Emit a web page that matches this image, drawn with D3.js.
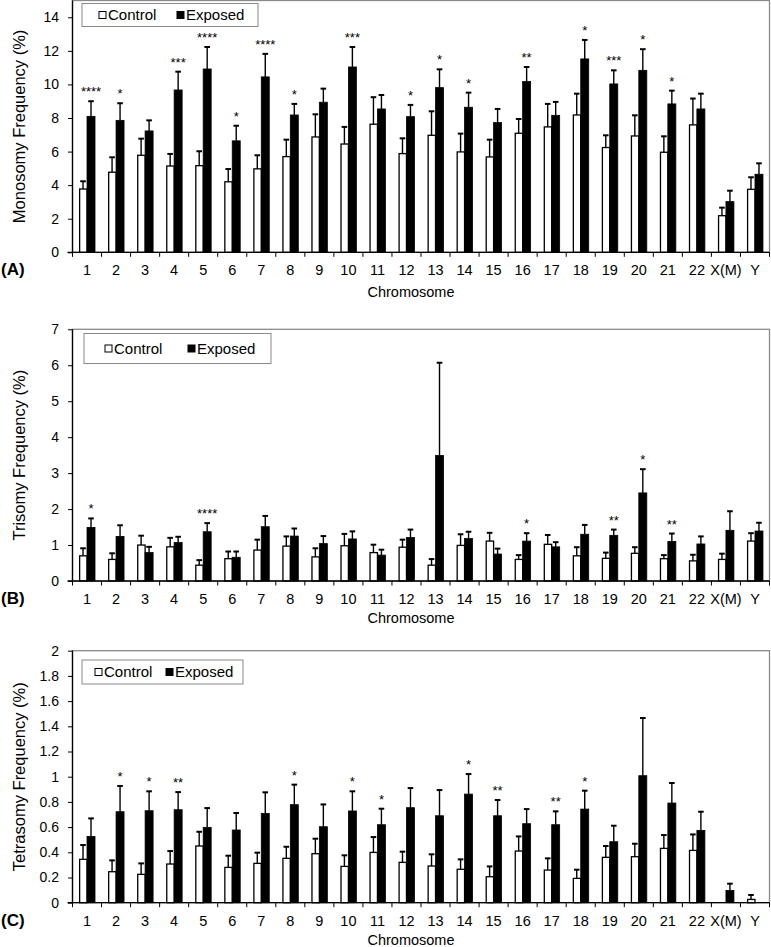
<!DOCTYPE html>
<html>
<head>
<meta charset="utf-8">
<script src="https://cdn.jsdelivr.net/npm/d3@7"></script>
<style>
  html, body { margin: 0; padding: 0; background: #fff; }
  svg { display: block; font-family: "Liberation Sans", Arial, sans-serif; }
</style>
</head>
<body>
<svg id="chart" width="771" height="947"></svg>
<script>
// ---------------- DATA ----------------
const categories = ["1","2","3","4","5","6","7","8","9","10","11","12","13","14","15","16","17","18","19","20","21","22","X(M)","Y"];
const seriesNames = ["Control", "Exposed"];

// (A) Monosomy
const monoControl    = [3.77,4.77,5.78,5.14,5.16,4.20,4.97,5.70,6.87,6.45,7.63,5.88,6.97,5.98,5.68,7.09,7.47,8.18,6.24,6.93,5.96,7.59,2.18,3.75];
const monoControlErr = [0.46,0.89,0.99,0.72,0.86,0.76,0.81,1.01,1.35,1.02,1.61,0.91,1.43,1.09,1.03,0.85,1.37,1.27,0.73,1.23,0.95,1.57,0.48,0.72];
const monoExposed    = [8.10,7.86,7.23,9.67,10.92,6.64,10.45,8.18,8.94,11.04,8.54,8.08,9.81,8.64,7.73,10.17,8.16,11.52,10.03,10.84,8.84,8.54,3.02,4.65];
const monoExposedErr = [0.90,1.02,0.63,1.09,1.31,0.90,1.37,0.66,0.81,1.19,0.83,0.70,1.09,0.87,0.81,0.87,0.80,1.13,0.81,1.26,0.79,0.91,0.65,0.65];
const monoStars      = ["****","*","","***","****","*","****","*","","***","","*","*","*","","**","","*","***","*","*","","",""];
const monoTicks      = [0,2,4,6,8,10,12,14];

// (B) Trisomy
const triControl    = [0.70,0.60,1.00,0.95,0.44,0.62,0.86,0.97,0.67,0.98,0.79,0.94,0.44,0.99,1.11,0.60,1.02,0.70,0.63,0.77,0.62,0.56,0.60,1.11];
const triControlErr = [0.21,0.17,0.26,0.25,0.14,0.20,0.29,0.27,0.24,0.33,0.22,0.21,0.17,0.31,0.23,0.12,0.26,0.24,0.16,0.17,0.10,0.17,0.16,0.22];
const triExposed    = [1.49,1.24,0.79,1.07,1.37,0.66,1.51,1.25,1.04,1.17,0.72,1.21,3.49,1.18,0.75,1.11,0.95,1.30,1.27,2.45,1.10,1.03,1.41,1.39];
const triExposedErr = [0.25,0.31,0.16,0.16,0.24,0.16,0.30,0.21,0.21,0.21,0.15,0.22,2.58,0.19,0.15,0.22,0.13,0.26,0.16,0.66,0.22,0.21,0.53,0.23];
const triStars      = ["*","","","","****","","","","","","","","","","","*","","","**","*","**","","",""];
const triTicks      = [0,1,2,3,4,5,6,7];

// (C) Tetrasomy
const tetraControl    = [0.344,0.246,0.225,0.307,0.450,0.280,0.312,0.352,0.389,0.288,0.399,0.320,0.291,0.265,0.206,0.410,0.259,0.193,0.360,0.365,0.431,0.415,0,0.026];
const tetraControlErr = [0.114,0.090,0.087,0.103,0.113,0.093,0.085,0.092,0.119,0.088,0.122,0.085,0.093,0.079,0.082,0.116,0.093,0.069,0.090,0.103,0.106,0.127,0,0.035];
const tetraExposed    = [0.526,0.722,0.730,0.738,0.598,0.577,0.709,0.778,0.603,0.728,0.619,0.754,0.690,0.862,0.690,0.627,0.619,0.743,0.484,1.008,0.791,0.574,0.098,0];
const tetraExposedErr = [0.143,0.204,0.154,0.140,0.153,0.135,0.167,0.159,0.177,0.156,0.127,0.156,0.204,0.159,0.125,0.116,0.106,0.146,0.127,0.458,0.159,0.148,0.053,0];
const tetraStars      = ["","*","*","**","","","","*","","*","*","","","*","**","","**","*","","","","","",""];
const tetraTicks      = [0,0.2,0.4,0.6,0.8,1,1.2,1.4,1.6,1.8,2];

// ---------------- LAYOUT ----------------
const svg = d3.select("#chart");
const plotLeft = 72.5, plotRight = 769.5;

const panels = [
  { tag: "(A)", title: "Monosomy Frequency (%)", top: 0.5, bottom: 252.3, max: 15, ticks: monoTicks,
    control: monoControl, controlErr: monoControlErr, exposed: monoExposed, exposedErr: monoExposedErr, stars: monoStars,
    xTitleDy: 45, legend: { x: 82, y: 3.5, w: 176, h: 23 } },
  { tag: "(B)", title: "Trisomy Frequency (%)", top: 329.3, bottom: 581, max: 7, ticks: triTicks,
    control: triControl, controlErr: triControlErr, exposed: triExposed, exposedErr: triExposedErr, stars: triStars,
    xTitleDy: 42, legend: { x: 84, y: 333.5, w: 187, h: 30 } },
  { tag: "(C)", title: "Tetrasomy Frequency (%)", top: 650.7, bottom: 902.7, max: 2, ticks: tetraTicks,
    control: tetraControl, controlErr: tetraControlErr, exposed: tetraExposed, exposedErr: tetraExposedErr, stars: tetraStars,
    xTitleDy: 42, legend: { x: 82, y: 660, w: 161, h: 24 } }
];

const x = d3.scaleBand().domain(categories).range([plotLeft, plotRight]).paddingInner(0).paddingOuter(0);
const sub = d3.scaleBand().domain(seriesNames).range([x.bandwidth() * 0.225, x.bandwidth() * 0.775]).padding(0);

panels.forEach(p => {
  const g = svg.append("g");
  const y = d3.scaleLinear().domain([0, p.max]).range([p.bottom, p.top]);

  // plot area frame (gray)
  g.append("rect")
    .attr("x", plotLeft).attr("y", p.top)
    .attr("width", plotRight - plotLeft).attr("height", p.bottom - p.top)
    .attr("fill", "none").attr("stroke", "#8a8a8a").attr("stroke-width", 1.3);

  const rows = categories.map((c, i) => ({
    cat: c,
    vals: [
      { s: "Control", v: p.control[i], e: p.controlErr[i] },
      { s: "Exposed", v: p.exposed[i], e: p.exposedErr[i] }
    ],
    star: p.stars[i]
  }));

  const grp = g.selectAll("g.cat").data(rows).join("g")
    .attr("class", "cat")
    .attr("transform", d => `translate(${x(d.cat)},0)`);

  // bars
  grp.selectAll("rect.bar").data(d => d.vals).join("rect")
    .attr("class", "bar")
    .attr("x", d => sub(d.s) + (d.s === "Control" ? 0.6 : 0))
    .attr("width", d => sub.bandwidth() - (d.s === "Control" ? 0.6 : 0))
    .attr("y", d => y(d.v))
    .attr("height", d => y(0) - y(d.v))
    .attr("fill", d => d.s === "Control" ? "#fff" : "#000")
    .attr("stroke", "#000")
    .attr("stroke-width", d => d.s === "Control" ? 1.3 : 0.8);

  // error bars (upward only)
  const eb = grp.selectAll("g.err").data(d => d.vals.filter(v => v.e > 0)).join("g").attr("class", "err");
  eb.append("line")
    .attr("x1", d => sub(d.s) + sub.bandwidth() / 2)
    .attr("x2", d => sub(d.s) + sub.bandwidth() / 2)
    .attr("y1", d => y(d.v))
    .attr("y2", d => y(d.v + d.e))
    .attr("stroke", "#000").attr("stroke-width", 1.4);
  eb.append("line")
    .attr("x1", d => sub(d.s) + sub.bandwidth() / 2 - 2.8)
    .attr("x2", d => sub(d.s) + sub.bandwidth() / 2 + 2.8)
    .attr("y1", d => y(d.v + d.e))
    .attr("y2", d => y(d.v + d.e))
    .attr("stroke", "#000").attr("stroke-width", 2);

  // significance stars
  grp.filter(d => d.star).append("text")
    .attr("x", d => sub("Exposed") + sub.bandwidth() / 2)
    .attr("y", d => y(d.vals[1].v + d.vals[1].e) - 5)
    .attr("text-anchor", "middle")
    .attr("font-size", 13)
    .attr("fill", "#000")
    .text(d => d.star);

  // y axis
  const yAxis = d3.axisLeft(y).tickValues(p.ticks).tickSize(4.5).tickPadding(9).tickFormat(d3.format("~g"));
  const ya = g.append("g").attr("transform", `translate(${plotLeft},0)`).call(yAxis);
  ya.select(".domain").attr("stroke", "#000").attr("stroke-width", 1.3).attr("d", `M0,${p.top}V${p.bottom}`);
  ya.selectAll(".tick line").attr("stroke", "#000").attr("stroke-width", 1);
  ya.selectAll(".tick text").attr("font-size", 14).attr("fill", "#000")
    .attr("font-family", "'Liberation Sans', Arial, sans-serif");

  // x axis: ticks at category boundaries
  const xa = g.append("g").attr("transform", `translate(0,${p.bottom})`);
  xa.append("line").attr("x1", plotLeft - 5).attr("x2", plotRight).attr("y1", 0).attr("y2", 0)
    .attr("stroke", "#000").attr("stroke-width", 1.3);
  const bounds = categories.map(c => x(c)).concat([x(categories[categories.length - 1]) + x.bandwidth()]);
  xa.selectAll("line.bt").data(bounds).join("line").attr("class", "bt")
    .attr("x1", d => d).attr("x2", d => d).attr("y1", 0).attr("y2", 4.5)
    .attr("stroke", "#000").attr("stroke-width", 1);
  xa.selectAll("text.cl").data(categories).join("text").attr("class", "cl")
    .attr("x", d => x(d) + x.bandwidth() / 2)
    .attr("y", 23)
    .attr("text-anchor", "middle")
    .attr("font-size", 14.5)
    .attr("fill", "#000")
    .text(d => d);

  // x title
  g.append("text")
    .attr("x", (plotLeft + plotRight) / 2 - 10)
    .attr("y", p.bottom + p.xTitleDy)
    .attr("text-anchor", "middle")
    .attr("font-size", 14.5)
    .text("Chromosome");

  // y title
  g.append("text")
    .attr("transform", `translate(25,${(p.top + p.bottom) / 2}) rotate(-90)`)
    .attr("text-anchor", "middle")
    .attr("font-size", 16.5)
    .attr("font-family", "'Liberation Sans Narrow', 'Arial Narrow', sans-serif")
    .text(p.title);

  // panel tag
  g.append("text")
    .attr("x", 1)
    .attr("y", p.bottom + 23)
    .attr("font-size", 17)
    .attr("font-weight", "bold")
    .text(p.tag);

  // legend
  const L = p.legend;
  const lg = g.append("g");
  lg.append("rect").attr("x", L.x).attr("y", L.y).attr("width", L.w).attr("height", L.h)
    .attr("fill", "#fff").attr("stroke", "#8a8a8a").attr("stroke-width", 1);
  const cy = L.y + L.h / 2;
  const items = [
    { name: "Control", fill: "#fff", sx: L.x + 17 },
    { name: "Exposed", fill: "#000", sx: L.x + 95 }
  ];
  if (p.tag === "(B)") { items[0].sx = L.x + 21; items[1].sx = L.x + 104; }
  if (p.tag === "(C)") { items[0].sx = L.x + 13; items[1].sx = L.x + 84; }
  items.forEach(it => {
    lg.append("rect").attr("x", it.sx).attr("y", cy - 3.5).attr("width", 7).attr("height", 7)
      .attr("fill", it.fill).attr("stroke", "#000").attr("stroke-width", 1);
    lg.append("text").attr("x", it.sx + 9).attr("y", cy + 5.2)
      .attr("font-size", 15).attr("fill", "#000").text(it.name);
  });
});
</script>
</body>
</html>
